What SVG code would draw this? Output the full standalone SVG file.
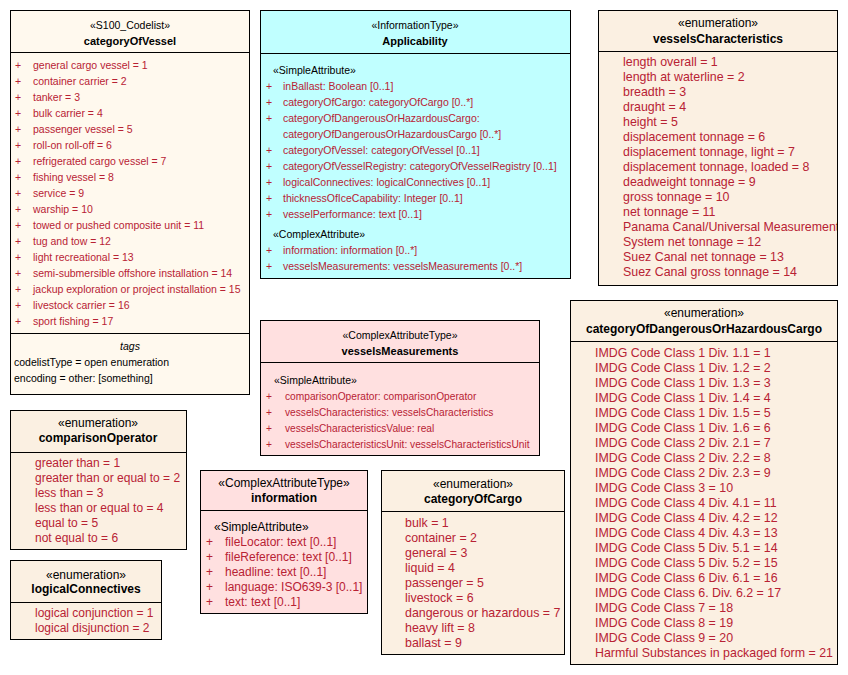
<svg xmlns="http://www.w3.org/2000/svg" width="848" height="675" viewBox="0 0 848 675">
<style>
.bx{stroke:#000;stroke-width:1}
.cl{fill:#FFF9EE}
.en{fill:#FBF0E2}
.it{fill:#C0FFFF}
.ct{fill:#FFE0E0}
.ln{stroke:#000;stroke-width:1}
text{font-family:"Liberation Sans",Arial,sans-serif}
.s{font-size:10.5px;fill:#000}
.n{font-size:11px;font-weight:bold;fill:#000}
.a{font-size:10.5px;fill:#B82234}
.a2{font-size:10.2px;fill:#B82234}
.s2{font-size:12px;fill:#000}
.n2{font-size:12px;font-weight:bold;fill:#000}
.e{font-size:12.4px;fill:#B82234}
.e2{font-size:12px;fill:#B82234}
.c{text-anchor:middle}
.t{font-size:10.5px;fill:#000}
</style>
<defs>
<clipPath id="clipVC"><rect x="598" y="10" width="239" height="276"/></clipPath>
</defs>
<g id="connectors"></g>

<g id="categoryOfVessel">
<rect class="bx cl" x="10.5" y="10.5" width="239" height="384"/>
<line class="ln" x1="10.5" y1="52.5" x2="249.5" y2="52.5"/>
<line class="ln" x1="10.5" y1="333.5" x2="249.5" y2="333.5"/>
<text class="s c" x="130" y="29">«S100_Codelist»</text>
<text class="n c" x="130" y="45">categoryOfVessel</text>
<g class="a">
<text x="15" y="69">+</text><text x="33" y="69">general cargo vessel = 1</text>
<text x="15" y="85">+</text><text x="33" y="85">container carrier = 2</text>
<text x="15" y="101">+</text><text x="33" y="101">tanker = 3</text>
<text x="15" y="117">+</text><text x="33" y="117">bulk carrier = 4</text>
<text x="15" y="133">+</text><text x="33" y="133">passenger vessel = 5</text>
<text x="15" y="149">+</text><text x="33" y="149">roll-on roll-off = 6</text>
<text x="15" y="165">+</text><text x="33" y="165">refrigerated cargo vessel = 7</text>
<text x="15" y="181">+</text><text x="33" y="181">fishing vessel = 8</text>
<text x="15" y="197">+</text><text x="33" y="197">service = 9</text>
<text x="15" y="213">+</text><text x="33" y="213">warship = 10</text>
<text x="15" y="229">+</text><text x="33" y="229">towed or pushed composite unit = 11</text>
<text x="15" y="245">+</text><text x="33" y="245">tug and tow = 12</text>
<text x="15" y="261">+</text><text x="33" y="261">light recreational = 13</text>
<text x="15" y="277">+</text><text x="33" y="277">semi-submersible offshore installation = 14</text>
<text x="15" y="293">+</text><text x="33" y="293">jackup exploration or project installation = 15</text>
<text x="15" y="309">+</text><text x="33" y="309">livestock carrier = 16</text>
<text x="15" y="325">+</text><text x="33" y="325">sport fishing = 17</text>
</g>
<text class="t c" x="130" y="350" font-style="italic">tags</text>
<text class="t" x="14" y="366">codelistType = open enumeration</text>
<text class="t" x="14" y="382">encoding = other: [something]</text>
</g>

<g id="Applicability">
<rect class="bx it" x="260.5" y="10.5" width="310" height="268"/>
<line class="ln" x1="260.5" y1="53.5" x2="570.5" y2="53.5"/>
<text class="s c" x="415" y="29">«InformationType»</text>
<text class="n c" x="415" y="45">Applicability</text>
<text class="s" x="273" y="74">«SimpleAttribute»</text>
<g class="a">
<text x="266" y="90">+</text><text x="283" y="90">inBallast: Boolean [0..1]</text>
<text x="266" y="106">+</text><text x="283" y="106">categoryOfCargo: categoryOfCargo [0..*]</text>
<text x="266" y="122">+</text><text x="283" y="122">categoryOfDangerousOrHazardousCargo:</text>
<text x="283" y="138">categoryOfDangerousOrHazardousCargo [0..*]</text>
<text x="266" y="154">+</text><text x="283" y="154">categoryOfVessel: categoryOfVessel [0..1]</text>
<text x="266" y="170">+</text><text x="283" y="170">categoryOfVesselRegistry: categoryOfVesselRegistry [0..1]</text>
<text x="266" y="186">+</text><text x="283" y="186">logicalConnectives: logicalConnectives [0..1]</text>
<text x="266" y="202">+</text><text x="283" y="202">thicknessOfIceCapability: Integer [0..1]</text>
<text x="266" y="218">+</text><text x="283" y="218">vesselPerformance: text [0..1]</text>
</g>
<text class="s" x="273" y="238">«ComplexAttribute»</text>
<g class="a">
<text x="266" y="254">+</text><text x="283" y="254">information: information [0..*]</text>
<text x="266" y="270">+</text><text x="283" y="270">vesselsMeasurements: vesselsMeasurements [0..*]</text>
</g>
</g>

<g id="vesselsCharacteristics">
<rect class="bx en" x="598.5" y="10.5" width="239" height="275"/>
<line class="ln" x1="598.5" y1="51.5" x2="837.5" y2="51.5"/>
<text class="s2 c" x="718" y="27">«enumeration»</text>
<text class="n2 c" x="718" y="43">vesselsCharacteristics</text>
<g class="e" clip-path="url(#clipVC)">
<text x="623" y="66">length overall = 1</text>
<text x="623" y="81">length at waterline = 2</text>
<text x="623" y="96">breadth = 3</text>
<text x="623" y="111">draught = 4</text>
<text x="623" y="126">height = 5</text>
<text x="623" y="141">displacement tonnage = 6</text>
<text x="623" y="156">displacement tonnage, light = 7</text>
<text x="623" y="171">displacement tonnage, loaded = 8</text>
<text x="623" y="186">deadweight tonnage = 9</text>
<text x="623" y="201">gross tonnage = 10</text>
<text x="623" y="216">net tonnage = 11</text>
<text x="623" y="231">Panama Canal/Universal Measurement</text>
<text x="623" y="246">System net tonnage = 12</text>
<text x="623" y="261">Suez Canal net tonnage = 13</text>
<text x="623" y="276">Suez Canal gross tonnage = 14</text>
</g>
</g>

<g id="vesselsMeasurements">
<rect class="bx ct" x="260.5" y="320.5" width="279" height="135"/>
<line class="ln" x1="260.5" y1="362.5" x2="539.5" y2="362.5"/>
<text class="s c" x="400" y="339">«ComplexAttributeType»</text>
<text class="n c" x="400" y="355">vesselsMeasurements</text>
<text class="s" x="274" y="384">«SimpleAttribute»</text>
<g class="a2">
<text x="266" y="400">+</text><text x="285" y="400">comparisonOperator: comparisonOperator</text>
<text x="266" y="416">+</text><text x="285" y="416">vesselsCharacteristics: vesselsCharacteristics</text>
<text x="266" y="432">+</text><text x="285" y="432">vesselsCharacteristicsValue: real</text>
<text x="266" y="448">+</text><text x="285" y="448">vesselsCharacteristicsUnit: vesselsCharacteristicsUnit</text>
</g>
</g>

<g id="comparisonOperator">
<rect class="bx en" x="10.5" y="410.5" width="176" height="139"/>
<line class="ln" x1="10.5" y1="452.5" x2="186.5" y2="452.5"/>
<text class="s2 c" x="98" y="427">«enumeration»</text>
<text class="n2 c" x="98" y="442">comparisonOperator</text>
<g class="e2">
<text x="35" y="467">greater than = 1</text>
<text x="35" y="482">greater than or equal to = 2</text>
<text x="35" y="497">less than = 3</text>
<text x="35" y="512">less than or equal to = 4</text>
<text x="35" y="527">equal to = 5</text>
<text x="35" y="542">not equal to = 6</text>
</g>
</g>

<g id="logicalConnectives">
<rect class="bx en" x="10.5" y="560.5" width="151" height="79"/>
<line class="ln" x1="10.5" y1="602.5" x2="161.5" y2="602.5"/>
<text class="s2 c" x="86" y="579">«enumeration»</text>
<text class="n2 c" x="86" y="593">logicalConnectives</text>
<g class="e2">
<text x="35" y="617">logical conjunction = 1</text>
<text x="35" y="632">logical disjunction = 2</text>
</g>
</g>

<g id="information">
<rect class="bx ct" x="200.5" y="470.5" width="167" height="143"/>
<line class="ln" x1="200.5" y1="510.5" x2="367.5" y2="510.5"/>
<text class="s2 c" x="284" y="487">«ComplexAttributeType»</text>
<text class="n2 c" x="284" y="502">information</text>
<text class="s2" x="214" y="531">«SimpleAttribute»</text>
<g class="e2">
<text x="206" y="546">+</text><text x="225" y="546">fileLocator: text [0..1]</text>
<text x="206" y="561">+</text><text x="225" y="561">fileReference: text [0..1]</text>
<text x="206" y="576">+</text><text x="225" y="576">headline: text [0..1]</text>
<text x="206" y="591">+</text><text x="225" y="591">language: ISO639-3 [0..1]</text>
<text x="206" y="606">+</text><text x="225" y="606">text: text [0..1]</text>
</g>
</g>

<g id="categoryOfCargo">
<rect class="bx en" x="381.5" y="470.5" width="183" height="184"/>
<line class="ln" x1="381.5" y1="511.5" x2="564.5" y2="511.5"/>
<text class="s2 c" x="473" y="488">«enumeration»</text>
<text class="n2 c" x="473" y="503">categoryOfCargo</text>
<g class="e">
<text x="405" y="527">bulk = 1</text>
<text x="405" y="542">container = 2</text>
<text x="405" y="557">general = 3</text>
<text x="405" y="572">liquid = 4</text>
<text x="405" y="587">passenger = 5</text>
<text x="405" y="602">livestock = 6</text>
<text x="405" y="617">dangerous or hazardous = 7</text>
<text x="405" y="632">heavy lift = 8</text>
<text x="405" y="647">ballast = 9</text>
</g>
</g>

<g id="categoryOfDangerousOrHazardousCargo">
<rect class="bx en" x="570.5" y="300.5" width="267" height="364"/>
<line class="ln" x1="570.5" y1="341.5" x2="837.5" y2="341.5"/>
<text class="s2 c" x="704" y="317">«enumeration»</text>
<text class="n2 c" x="704" y="333">categoryOfDangerousOrHazardousCargo</text>
<g class="e">
<text x="595" y="357">IMDG Code Class 1 Div. 1.1 = 1</text>
<text x="595" y="372">IMDG Code Class 1 Div. 1.2 = 2</text>
<text x="595" y="387">IMDG Code Class 1 Div. 1.3 = 3</text>
<text x="595" y="402">IMDG Code Class 1 Div. 1.4 = 4</text>
<text x="595" y="417">IMDG Code Class 1 Div. 1.5 = 5</text>
<text x="595" y="432">IMDG Code Class 1 Div. 1.6 = 6</text>
<text x="595" y="447">IMDG Code Class 2 Div. 2.1 = 7</text>
<text x="595" y="462">IMDG Code Class 2 Div. 2.2 = 8</text>
<text x="595" y="477">IMDG Code Class 2 Div. 2.3 = 9</text>
<text x="595" y="492">IMDG Code Class 3 = 10</text>
<text x="595" y="507">IMDG Code Class 4 Div. 4.1 = 11</text>
<text x="595" y="522">IMDG Code Class 4 Div. 4.2 = 12</text>
<text x="595" y="537">IMDG Code Class 4 Div. 4.3 = 13</text>
<text x="595" y="552">IMDG Code Class 5 Div. 5.1 = 14</text>
<text x="595" y="567">IMDG Code Class 5 Div. 5.2 = 15</text>
<text x="595" y="582">IMDG Code Class 6 Div. 6.1 = 16</text>
<text x="595" y="597">IMDG Code Class 6. Div. 6.2 = 17</text>
<text x="595" y="612">IMDG Code Class 7 = 18</text>
<text x="595" y="627">IMDG Code Class 8 = 19</text>
<text x="595" y="642">IMDG Code Class 9 = 20</text>
<text x="595" y="657">Harmful Substances in packaged form = 21</text>
</g>
</g>
</svg>
